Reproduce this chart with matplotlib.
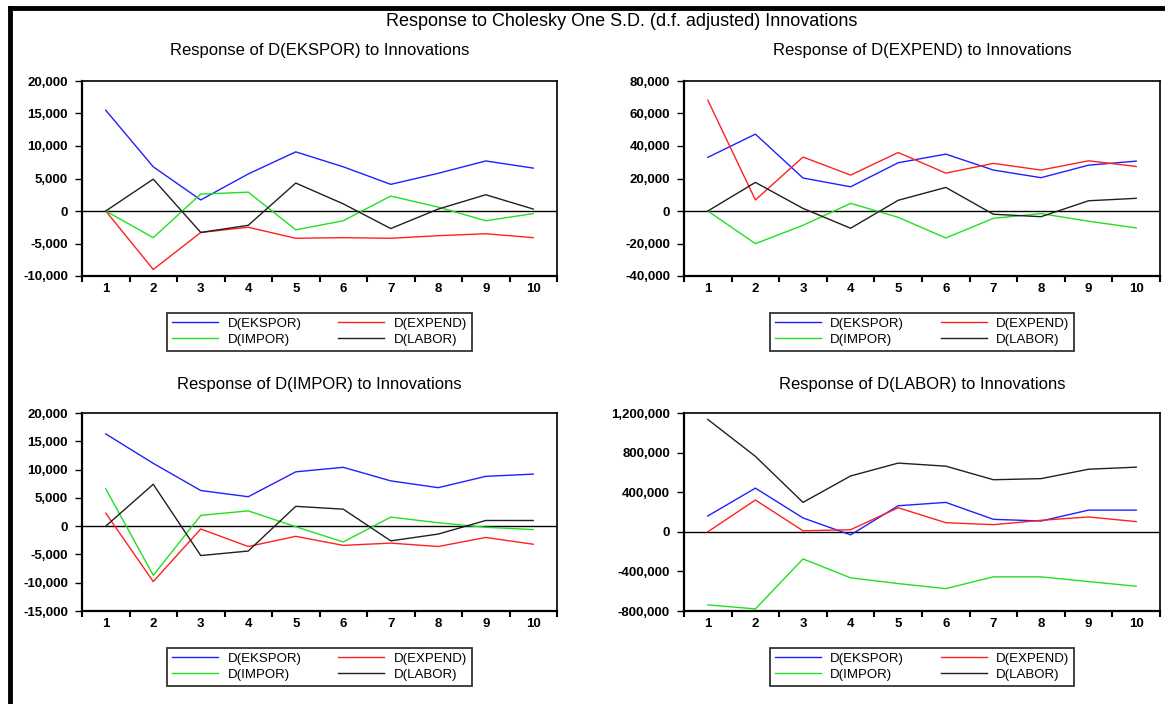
import numpy as np
import matplotlib
matplotlib.use("Agg")
import matplotlib.pyplot as plt
from matplotlib.lines import Line2D
from matplotlib.ticker import FuncFormatter, FixedLocator

plt.rcParams['font.family'] = ['Liberation Sans', 'DejaVu Sans']

# periods
periods = np.arange(1, 11)
series_names = ["D(EKSPOR)", "D(EXPEND)", "D(IMPOR)", "D(LABOR)"]
series_colors = ["#2020ff", "#ff2020", "#20e020", "#202020"]

# Response of D(EKSPOR)
ekspor_ekspor = [15500, 6800, 1700, 5700, 9100, 6800, 4100, 5800, 7700, 6600]
ekspor_expend = [0, -9000, -3300, -2500, -4200, -4100, -4200, -3800, -3500, -4100]
ekspor_impor = [0, -4100, 2600, 2900, -2900, -1500, 2300, 600, -1500, -400]
ekspor_labor = [0, 4900, -3300, -2200, 4300, 1100, -2700, 300, 2500, 300]

# Response of D(EXPEND)
expend_ekspor = [33000, 47300, 20300, 14900, 29700, 35000, 25200, 20500, 28200, 30700]
expend_expend = [68200, 6800, 33200, 22100, 36000, 23300, 29300, 25200, 30900, 27400]
expend_impor = [0, -20100, -8800, 4700, -3900, -16600, -4500, -1600, -6300, -10400]
expend_labor = [0, 17600, 1600, -10600, 6600, 14500, -2000, -3500, 6300, 7800]

# Response of D(IMPOR)
impor_ekspor = [16300, 11100, 6300, 5200, 9600, 10400, 8000, 6800, 8800, 9200]
impor_expend = [2300, -9800, -500, -3600, -1800, -3400, -3000, -3600, -2000, -3200]
impor_impor = [6600, -8700, 1900, 2700, -100, -2800, 1600, 600, -200, -600]
impor_labor = [0, 7400, -5200, -4400, 3500, 3000, -2600, -1400, 1000, 1000]

# Response of D(LABOR)
labor_ekspor = [160000, 441000, 140000, -31000, 263000, 297000, 126000, 109000, 219000, 219000]
labor_expend = [0, 321000, 10000, 21000, 243000, 92000, 72000, 116000, 150000, 103000]
labor_impor = [-738000, -779000, -274000, -465000, -523000, -574000, -455000, -455000, -503000, -550000]
labor_labor = [1135000, 762000, 297000, 564000, 694000, 663000, 526000, 537000, 632000, 653000]

panels = [
    ("Response of D(EKSPOR) to Innovations",
     [ekspor_ekspor, ekspor_expend, ekspor_impor, ekspor_labor],
     (-10000, 20000), np.arange(-10000, 20001, 5000)),
    ("Response of D(EXPEND) to Innovations",
     [expend_ekspor, expend_expend, expend_impor, expend_labor],
     (-40000, 80000), np.arange(-40000, 80001, 20000)),
    ("Response of D(IMPOR) to Innovations",
     [impor_ekspor, impor_expend, impor_impor, impor_labor],
     (-15000, 20000), np.arange(-15000, 20001, 5000)),
    ("Response of D(LABOR) to Innovations",
     [labor_ekspor, labor_expend, labor_impor, labor_labor],
     (-800000, 1200000), np.arange(-800000, 1200001, 400000)),
]

W, H = 1165, 704
fig = plt.figure(figsize=(W / 100, H / 100), dpi=100)

# axes boxes in pixels: left, top, right, bottom
boxes = [(82, 81, 557, 276), (684, 81, 1160, 276),
         (82, 413, 557, 611), (684, 413, 1160, 611)]
title_y = [50, 50, 385, 385]
legend_top = [313, 313, 648, 648]

fmt = FuncFormatter(lambda v, p: f"{int(v):,}")

for i, (title, data, ylim, yticks) in enumerate(panels):
    l, t, r, b = boxes[i]
    ax = fig.add_axes([l / W, 1 - b / H, (r - l) / W, (b - t) / H])
    lines = []
    for vals, name, col in zip(data, series_names, series_colors):
        ln, = ax.plot(periods, vals, color=col, lw=1.0, label=name)
        lines.append(ln)
    ax.axhline(0, color="black", lw=1.0, zorder=1)
    ax.set_xlim(0.5, 10.5)
    ax.set_ylim(*ylim)
    ax.set_yticks(yticks)
    ax.yaxis.set_major_formatter(fmt)
    # ticks at boundaries, labels at integers
    ax.xaxis.set_major_locator(FixedLocator(np.arange(0.5, 11, 1)))
    ax.xaxis.set_minor_locator(FixedLocator(periods))
    ax.xaxis.set_major_formatter(FuncFormatter(lambda v, p: ""))
    ax.xaxis.set_minor_formatter(FuncFormatter(lambda v, p: f"{int(v)}"))
    ax.tick_params(axis="x", which="major", direction="out", length=4, width=1.5)
    ax.tick_params(axis="x", which="minor", length=0, pad=5, labelsize=9.5)
    ax.tick_params(axis="y", direction="out", length=5, width=1.0, pad=5, labelsize=9.5)
    for lab in ax.get_xticklabels(minor=True) + ax.get_yticklabels():
        lab.set_fontweight("bold")
    for sp in ax.spines.values():
        sp.set_linewidth(1.2)
    ax.spines["left"].set_linewidth(1.6)
    ax.spines["bottom"].set_linewidth(1.6)

    cx = (l + r) / 2 / W
    fig.text(cx, 1 - title_y[i] / H, title, ha="center", va="center", fontsize=12)
    # order so rows read EKSPOR, EXPEND / IMPOR, LABOR
    order = [0, 2, 1, 3]
    leg = ax.legend([lines[k] for k in order], [series_names[k] for k in order],
                    loc="upper center", bbox_to_anchor=(cx, 1 - legend_top[i] / H),
                    bbox_transform=fig.transFigure, ncol=2, fontsize=9.5,
                    frameon=True, fancybox=False, handlelength=3.5,
                    columnspacing=2.8, borderpad=0.35, labelspacing=0.3,
                    handletextpad=0.7, borderaxespad=0)
    leg.get_frame().set_edgecolor("black")
    leg.get_frame().set_linewidth(1.3)

fig.text(0.534, 1 - 21 / H, "Response to Cholesky One S.D. (d.f. adjusted) Innovations",
         ha="center", va="center", fontsize=13)

# outer frame (left and top edges)
fig.add_artist(Line2D([10 / W, 10 / W], [0, 1 - 8 / H], color="black", lw=3.5,
                      transform=fig.transFigure))
fig.add_artist(Line2D([10 / W, 1], [1 - 8 / H, 1 - 8 / H], color="black", lw=3.5,
                      transform=fig.transFigure))

fig.savefig("out.png", dpi=100)
